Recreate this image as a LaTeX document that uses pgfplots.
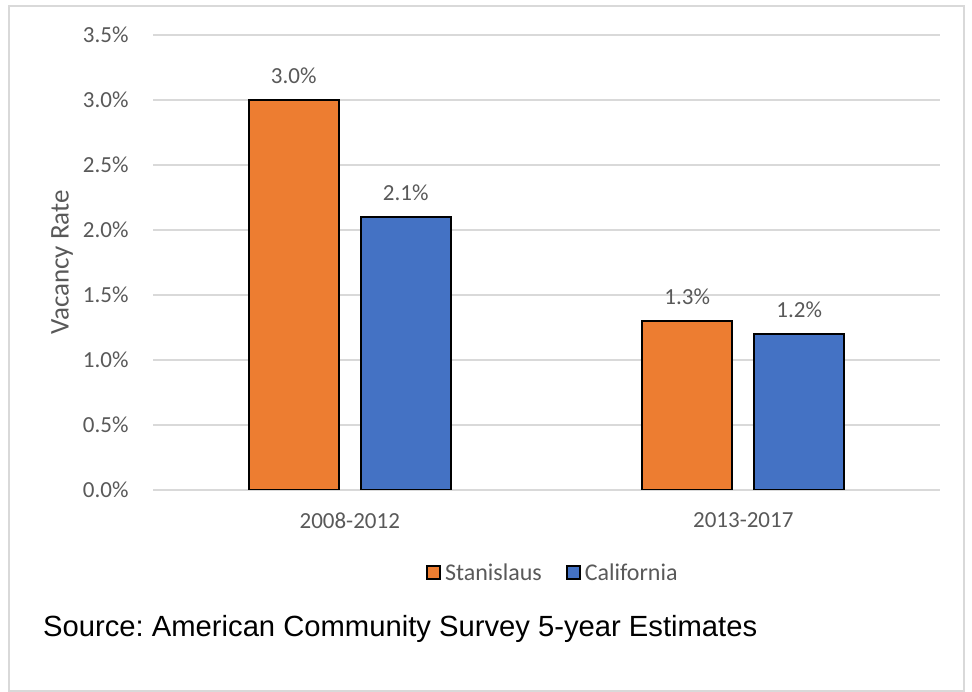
\documentclass[border=0pt]{standalone}
\usepackage{pgfplots}
\pgfplotsset{compat=1.18}
\usepackage{fontspec}
\setmainfont{Carlito}
\newfontfamily\arialfont{Liberation Sans}
\definecolor{orng}{RGB}{237,125,49}
\definecolor{blu}{RGB}{68,114,196}
\definecolor{txt}{RGB}{89,89,89}
\definecolor{grd}{RGB}{217,217,217}
\definecolor{brd}{RGB}{217,217,217}
\frenchspacing
\begin{document}
\begin{tikzpicture}[x=1pt,y=1pt]
\fill[white] (0pt,0pt) rectangle (972pt,692pt);
\draw[brd,line width=2pt] (9pt,1pt) rectangle (964pt,686pt);
\begin{axis}[
  at={(153pt,202pt)}, anchor=south west,
  scale only axis, width=787pt, height=455pt,
  ybar=22pt, bar width=90pt,
  xmin=-0.5, xmax=1.5, ymin=0, ymax=3.5,
  xtick={0,1}, xticklabels={2008-2012,2013-2017},
  ytick={0,0.5,1,1.5,2,2.5,3,3.5},
  yticklabel={\pgfmathprintnumber[fixed,fixed zerofill,precision=1]{\tick}\%},
  /pgf/number format/assume math mode=true,
  ymajorgrids, grid style={grd,line width=1.5pt},
  axis x line*=bottom, axis y line*=left,
  y axis line style={draw=none},
  x axis line style={draw=grd,line width=2pt},
  major tick length=0pt,
  tick label style={font=\fontsize{23}{27}\selectfont, text=txt},
  yticklabel style={xshift=-21pt},
  xticklabel style={yshift=-19pt},
  ylabel={Vacancy Rate},
  ylabel style={at={(axis description cs:-0.1156,0.5)}, anchor=center, font=\fontsize{27}{32}\selectfont, text=txt},
  nodes near coords={\pgfmathprintnumber[fixed,fixed zerofill,precision=1]{\pgfplotspointmeta}\%},
  nodes near coords style={font=\fontsize{23}{27}\selectfont, text=txt, yshift=12pt},
  legend columns=2,
  legend style={at={(axis description cs:0.508,-0.1824)}, anchor=center, draw=none, fill=none,
     font=\fontsize{24}{28}\selectfont, text=txt, column sep=0pt,
     /tikz/every even column/.append style={column sep=22pt},
     /tikz/every odd column/.append style={column sep=2pt}},
  legend image code/.code={\draw[#1,draw=black,line width=2pt] (0pt,-6.5pt) rectangle (13pt,6.5pt);},
]
\addplot[fill=orng, draw=black, line width=2pt] coordinates {(0,3.0) (1,1.3)};
\addplot[fill=blu, draw=black, line width=2pt] coordinates {(0,2.1) (1,1.2)};
\legend{Stanislaus, California}
\end{axis}
\node[anchor=base west, inner sep=0pt, font=\arialfont\fontsize{29.2}{34}\selectfont] at (43pt,55pt) {Source: American Community Survey 5-year Estimates};
\end{tikzpicture}
\end{document}
